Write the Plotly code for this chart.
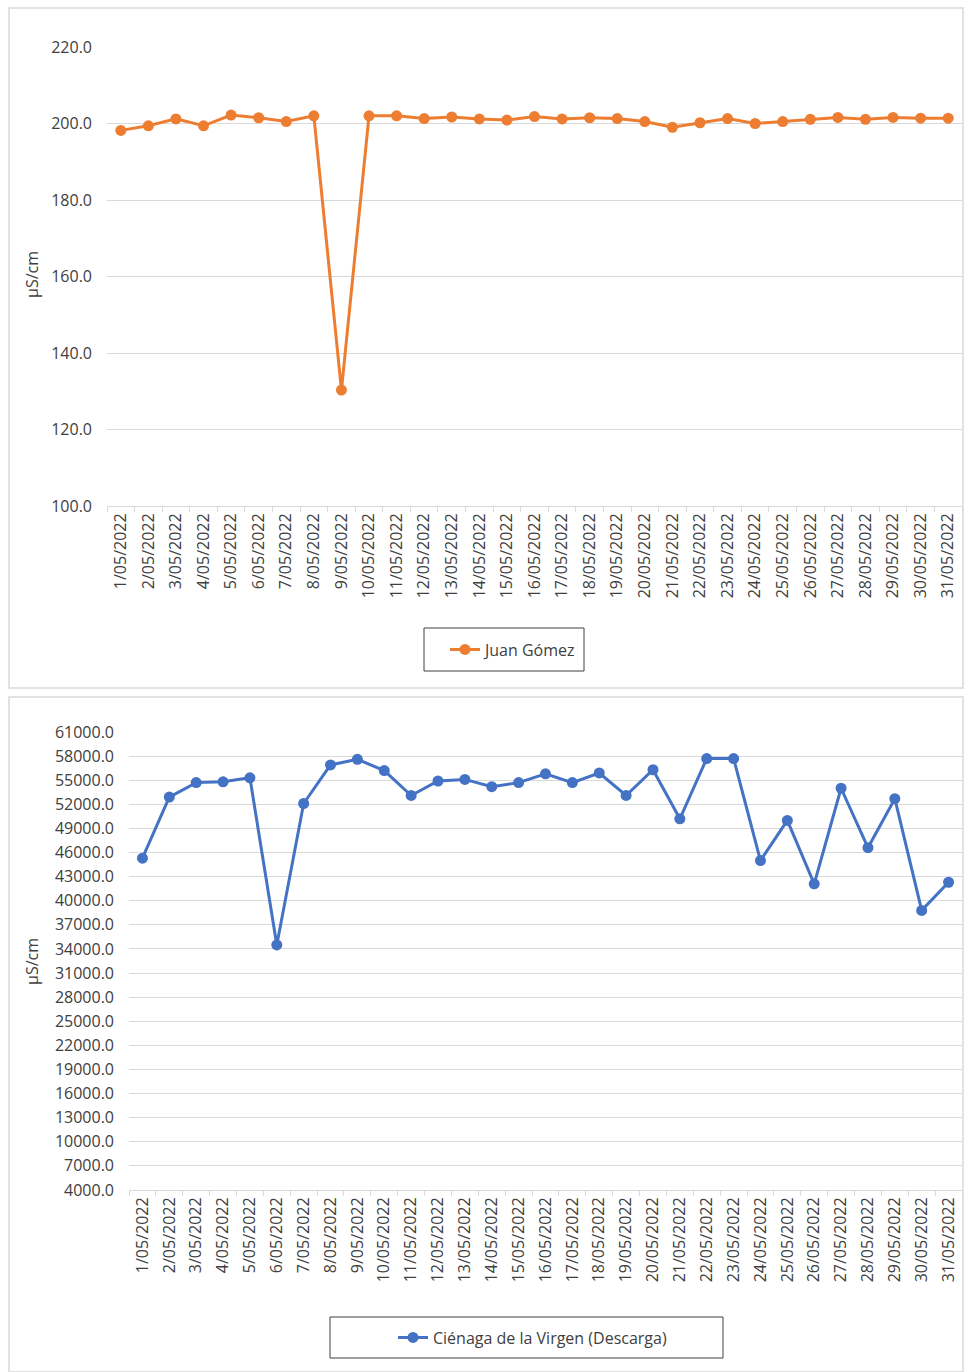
import plotly.graph_objects as go

# Fechas de muestreo (mayo 2022)
fechas = [
    "1/05/2022", "2/05/2022", "3/05/2022", "4/05/2022", "5/05/2022",
    "6/05/2022", "7/05/2022", "8/05/2022", "9/05/2022", "10/05/2022",
    "11/05/2022", "12/05/2022", "13/05/2022", "14/05/2022", "15/05/2022",
    "16/05/2022", "17/05/2022", "18/05/2022", "19/05/2022", "20/05/2022",
    "21/05/2022", "22/05/2022", "23/05/2022", "24/05/2022", "25/05/2022",
    "26/05/2022", "27/05/2022", "28/05/2022", "29/05/2022", "30/05/2022",
    "31/05/2022",
]

# Conductividad (µS/cm) - estación Juan Gómez
juan_gomez = [
    198.2, 199.4, 201.2, 199.4, 202.2, 201.5, 200.5, 202.0, 130.3, 202.0,
    202.0, 201.3, 201.7, 201.2, 200.9, 201.8, 201.2, 201.5, 201.3, 200.5,
    199.0, 200.2, 201.3, 200.0, 200.5, 201.1, 201.6, 201.1, 201.6, 201.4,
    201.4,
]

# Conductividad (µS/cm) - Ciénaga de la Virgen (Descarga)
cienaga = [
    45300, 52900, 54700, 54800, 55300, 34500, 52100, 56900, 57600, 56200,
    53100, 54900, 55100, 54200, 54700, 55800, 54700, 55900, 53100, 56300,
    50200, 57700, 57700, 45000, 50000, 42100, 54000, 46600, 52700, 38800,
    42300,
]

W, H = 964, 1372
FONT = "Open Sans"
TXT = "#404040"
GRID = "#D9D9D9"
NARANJA = "#ED7D31"
AZUL = "#4472C4"


def fx(p):
    return p / W


def fy(p):
    return 1 - p / H


fig = go.Figure()

fig.add_trace(go.Scatter(
    x=fechas, y=juan_gomez, name="Juan Gómez", mode="lines+markers",
    line=dict(color=NARANJA, width=3), marker=dict(color=NARANJA, size=11),
    xaxis="x", yaxis="y", legend="legend",
))
fig.add_trace(go.Scatter(
    x=fechas, y=cienaga, name="Ciénaga de la Virgen (Descarga)",
    mode="lines+markers",
    line=dict(color=AZUL, width=3), marker=dict(color=AZUL, size=11),
    xaxis="x2", yaxis="y2", legend="legend2",
))

xcommon = dict(
    type="category", range=[-0.5, 30.5], tickangle=-90, automargin=False,
    ticks="outside", tickson="boundaries", ticklen=5, tickcolor=GRID,
    showline=True, linecolor=GRID, linewidth=1, showgrid=False,
    tickfont=dict(family=FONT, size=16, color=TXT), fixedrange=True,
)
ycommon = dict(
    showgrid=True, gridcolor=GRID, gridwidth=1, zeroline=False,
    showline=False, tickformat=".1f", ticklabelstandoff=14, automargin=False,
    tickfont=dict(family=FONT, size=16, color=TXT), fixedrange=True,
)

fig.update_layout(
    width=W, height=H,
    margin=dict(l=0, r=0, t=0, b=0, pad=0, autoexpand=False),
    paper_bgcolor="white", plot_bgcolor="white",
    showlegend=True,
    xaxis=dict(domain=[fx(107), fx(962)], anchor="y", **xcommon),
    yaxis=dict(domain=[fy(506), fy(47)], anchor="x", range=[100, 220],
               dtick=20, tick0=100, **ycommon),
    xaxis2=dict(domain=[fx(129), fx(962)], anchor="y2", **xcommon),
    yaxis2=dict(domain=[fy(1190), fy(732)], anchor="x2", range=[4000, 61000],
                dtick=3000, tick0=4000, **ycommon),
    legend=dict(x=fx(445), y=fy(649.5), xanchor="left", yanchor="middle",
                bgcolor="rgba(0,0,0,0)", borderwidth=0,
                font=dict(family=FONT, size=16, color=TXT)),
    legend2=dict(x=fx(393), y=fy(1337.5), xanchor="left", yanchor="middle",
                 bgcolor="rgba(0,0,0,0)", borderwidth=0,
                 font=dict(family=FONT, size=16, color=TXT)),
)

# Marcos de cada gráfico y de sus leyendas
shapes = [
    dict(x0=fx(9), x1=fx(963), y0=fy(688), y1=fy(8)),
    dict(x0=fx(9), x1=fx(963), y0=fy(1372), y1=fy(697)),
]
for s in shapes:
    s.update(type="rect", xref="paper", yref="paper",
             line=dict(color=GRID, width=1.5), fillcolor="rgba(0,0,0,0)",
             layer="below")
leg_boxes = [
    dict(x0=fx(424), x1=fx(584), y0=fy(671), y1=fy(628)),
    dict(x0=fx(330), x1=fx(723), y0=fy(1358), y1=fy(1317)),
]
for s in leg_boxes:
    s.update(type="rect", xref="paper", yref="paper",
             line=dict(color="#404040", width=1), fillcolor="rgba(0,0,0,0)")
fig.update_layout(shapes=shapes + leg_boxes)

# Títulos de eje (µS/cm)
for ypix in (275, 962):
    fig.add_annotation(
        text="µS/cm", x=fx(32), y=fy(ypix), xref="paper", yref="paper",
        textangle=-90, showarrow=False, xanchor="center", yanchor="middle",
        font=dict(family=FONT, size=16, color="#404040"),
    )

fig.write_html("out.html")
